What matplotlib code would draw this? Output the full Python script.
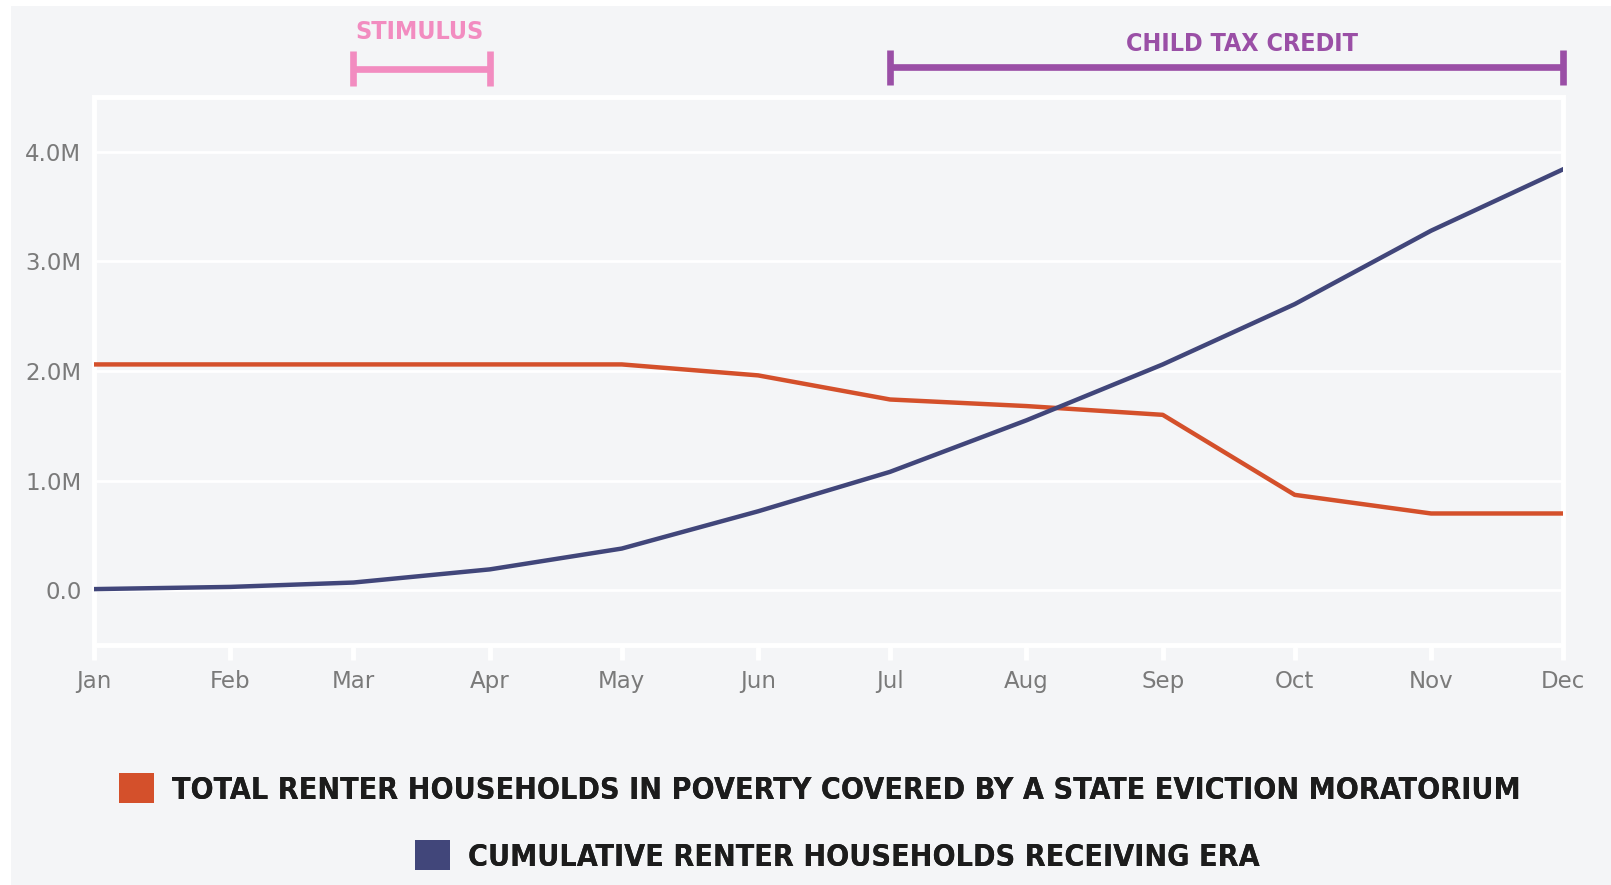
import matplotlib
matplotlib.use("Agg")
import datetime as dt
import matplotlib.pyplot as plt
from matplotlib.patches import Patch, Rectangle

months = ["Jan", "Feb", "Mar", "Apr", "May", "Jun",
          "Jul", "Aug", "Sep", "Oct", "Nov", "Dec"]
# values in millions of renter households, first of each month of 2021
moratorium = [2.06, 2.06, 2.06, 2.06, 2.06, 1.96, 1.74, 1.68, 1.60, 0.87, 0.70, 0.70]
era_cumulative = [0.01, 0.03, 0.07, 0.19, 0.38, 0.72, 1.08, 1.55, 2.06, 2.61, 3.28, 3.84]
y_ticks = [0, 1, 2, 3, 4]
y_tick_labels = ["0.0", "1.0M", "2.0M", "3.0M", "4.0M"]
legend_labels = ["TOTAL RENTER HOUSEHOLDS IN POVERTY COVERED BY A STATE EVICTION MORATORIUM",
                 "CUMULATIVE RENTER HOUSEHOLDS RECEIVING ERA"]
periods = [("STIMULUS", 3, 4), ("CHILD TAX CREDIT", 7, 12)]

BG = "#f4f5f7"
ORANGE = "#d4502b"
NAVY = "#41467a"
PINK = "#f28cc0"
PURPLE = "#9a4fa6"
TICK_GREY = "#7a7a7a"
LABEL_FONT = ["DejaVu Sans"]
HEAD_FONT = ["DejaVu Sans"]

dates = [dt.date(2021, m, 1) for m in range(1, 13)]

fig = plt.figure(figsize=(16.11, 8.85), dpi=100, facecolor="white")
fig.patches.append(Rectangle((11 / 1611, 0), 1, 1 - 6 / 885,
                             transform=fig.transFigure, facecolor=BG,
                             edgecolor="none", zorder=-10))

ax = fig.add_axes([94 / 1611, 1 - 645 / 885, (1563 - 94) / 1611, (645 - 97) / 885])
ax.set_facecolor(BG)
ax.plot(dates, moratorium, color=ORANGE, lw=3.2, solid_joinstyle="round", zorder=3)
ax.plot(dates, era_cumulative, color=NAVY, lw=3.2, solid_joinstyle="round", zorder=3)

ax.set_xlim(dates[0], dates[-1])
ax.set_ylim(-0.5, 4.5)
ax.set_xticks(dates)
ax.set_xticklabels(months)
ax.set_yticks(y_ticks)
ax.set_yticklabels(y_tick_labels)
ax.grid(axis="y", color="white", lw=2)
ax.set_axisbelow(True)
for s in ax.spines.values():
    s.set_color("white")
    s.set_linewidth(3.5)
ax.tick_params(axis="x", colors="white", length=11, width=3.5, pad=7,
               labelcolor=TICK_GREY, labelsize=16.5)
ax.tick_params(axis="y", length=0, pad=9, labelcolor=TICK_GREY, labelsize=16.5)
for lab in ax.get_xticklabels() + ax.get_yticklabels():
    lab.set_family(LABEL_FONT)

# period brackets above the plot
bracket_y = [4.76, 4.77]
label_pos = [(dt.date(2021, 3, 16), 5.09), (dt.date(2021, 9, 19), 4.98)]
colors = [PINK, PURPLE]
for (name, m0, m1), by, (tx, ty), c in zip(periods, bracket_y, label_pos, colors):
    x0, x1 = dates[m0 - 1], dates[m1 - 1]
    ax.plot([x0, x1], [by, by], color=c, lw=4.8, clip_on=False, solid_capstyle="butt")
    for xe in (x0, x1):
        ax.plot([xe, xe], [by - 0.16, by + 0.16], color=c, lw=4.8,
                clip_on=False, solid_capstyle="butt")
    ax.text(tx, ty, name, color=c, ha="center", va="center", fontsize=18,
            fontweight="bold", fontstretch="condensed", family=HEAD_FONT,
            clip_on=False)

# two independently centred legend rows
for lab, c, xc, yc in zip(legend_labels, [ORANGE, NAVY], [0.509, 0.520], [789, 856]):
    leg = fig.legend([Patch(facecolor=c, edgecolor="none")], [lab],
                     loc="center", bbox_to_anchor=(xc, 1 - yc / 885),
                     frameon=False, handlelength=1.15, handleheight=1.15,
                     handletextpad=0.6, borderpad=0,
                     prop={"family": HEAD_FONT, "weight": "bold",
                           "stretch": "condensed", "size": 21.8})
    for t in leg.get_texts():
        t.set_color("#1c1c1c")
    fig.add_artist(leg)

fig.savefig("out.png", dpi=100, facecolor=fig.get_facecolor())
